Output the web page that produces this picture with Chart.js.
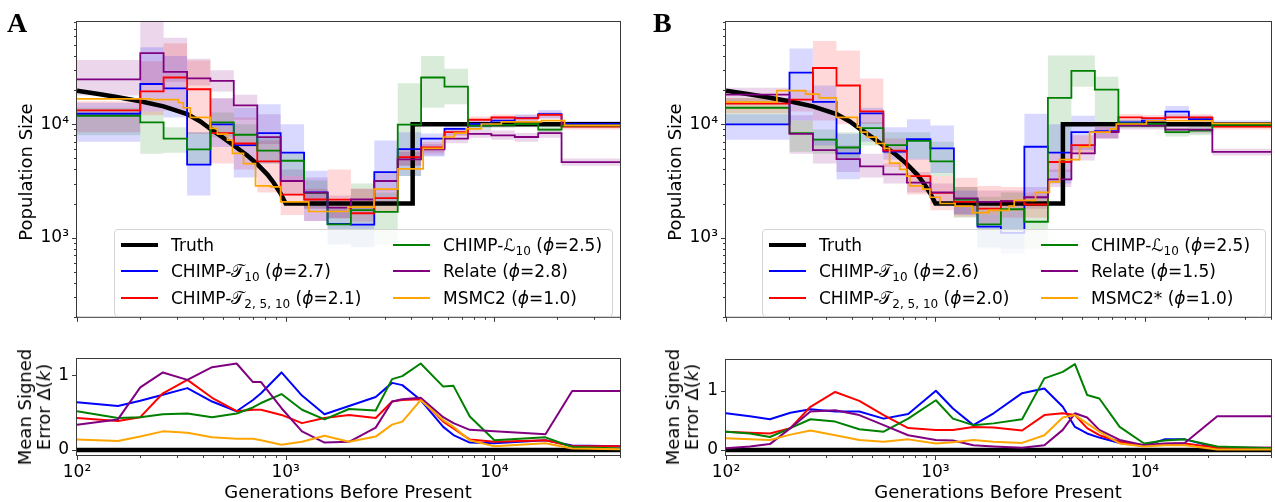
<!DOCTYPE html>
<html>
<head>
<meta charset="utf-8">
<script src="https://cdn.jsdelivr.net/npm/chart.js@4.4.1/dist/chart.umd.min.js"></script>
<style>
  body { margin: 0; background: #fff; }
  #wrap { position: relative; width: 1275px; height: 502px; overflow: hidden; font-family: "DejaVu Sans", sans-serif; color: #000; }
  canvas { position: absolute; }
  .ylab { position: absolute; transform: translate(-50%, -50%) rotate(-90deg); white-space: nowrap; font-size: 18px; line-height: 19px; text-align: center; }
  .xlab { position: absolute; transform: translate(-50%, -50%); white-space: nowrap; font-size: 18px; }
  .panel { position: absolute; font-family: "Liberation Serif", "DejaVu Serif", serif; font-weight: bold; font-size: 28px; line-height: 28px; }
  .legend { position: absolute; border: 1px solid #d4d4d4; border-radius: 4px; background: rgba(255,255,255,0.8); font-size: 17px; }
  .legend .sw { position: absolute; width: 37px; height: 0; border-top: 2px solid; }
  .legend .tx { position: absolute; white-space: nowrap; transform: translateY(-50%); line-height: 20px; }
  .legend sub { font-size: 12px; vertical-align: -4px; line-height: 0; }
  .cal { font-family: "DejaVu Sans", "DejaVu Serif", "Noto Sans", serif; }
</style>
</head>
<body>
<div id="wrap">
  <canvas id="topA" width="637" height="335" style="left:0;top:0"></canvas>
  <canvas id="errA" width="637" height="167" style="left:0;top:335px"></canvas>
  <canvas id="topB" width="635" height="335" style="left:640px;top:0"></canvas>
  <canvas id="errB" width="635" height="167" style="left:640px;top:335px"></canvas>

  <div class="panel" style="left:7px;top:9px">A</div>
  <div class="panel" style="left:653px;top:9px">B</div>

  <div class="ylab" style="left:25px;top:172px">Population Size</div>
  <div class="ylab" style="left:34px;top:407px">Mean Signed<br>Error Δ(<i>k</i>)</div>
  <div class="xlab" style="left:348px;top:491px">Generations Before Present</div>

  <div class="ylab" style="left:674px;top:172px">Population Size</div>
  <div class="ylab" style="left:682px;top:407px">Mean Signed<br>Error Δ(<i>k</i>)</div>
  <div class="xlab" style="left:998px;top:491px">Generations Before Present</div>

  <div class="legend" style="left:114px;top:229px;width:497px;height:86px">
    <div class="sw" style="left:6px;top:13px;border-top-width:4px;border-color:#000"></div>
    <div class="tx" style="left:56px;top:15px">Truth</div>
    <div class="sw" style="left:6px;top:40px;border-color:#0000ff"></div>
    <div class="tx" style="left:56px;top:41px">CHIMP-<span class="cal">𝒯</span><sub>10</sub> (<i>ϕ</i>=2.7)</div>
    <div class="sw" style="left:6px;top:67px;border-color:#ff0000"></div>
    <div class="tx" style="left:56px;top:68px">CHIMP-<span class="cal">𝒯</span><sub>2, 5, 10</sub> (<i>ϕ</i>=2.1)</div>
    <div class="sw" style="left:278px;top:14px;border-color:#008000"></div>
    <div class="tx" style="left:328px;top:15px">CHIMP-<span class="cal">ℒ</span><sub>10</sub> (<i>ϕ</i>=2.5)</div>
    <div class="sw" style="left:278px;top:40px;border-color:#800080"></div>
    <div class="tx" style="left:328px;top:41px">Relate (<i>ϕ</i>=2.8)</div>
    <div class="sw" style="left:278px;top:67px;border-color:#ffa500"></div>
    <div class="tx" style="left:328px;top:68px">MSMC2 (<i>ϕ</i>=1.0)</div>
  </div>

  <div class="legend" style="left:762px;top:229px;width:502px;height:86px">
    <div class="sw" style="left:6px;top:13px;border-top-width:4px;border-color:#000"></div>
    <div class="tx" style="left:56px;top:15px">Truth</div>
    <div class="sw" style="left:6px;top:40px;border-color:#0000ff"></div>
    <div class="tx" style="left:56px;top:41px">CHIMP-<span class="cal">𝒯</span><sub>10</sub> (<i>ϕ</i>=2.6)</div>
    <div class="sw" style="left:6px;top:67px;border-color:#ff0000"></div>
    <div class="tx" style="left:56px;top:68px">CHIMP-<span class="cal">𝒯</span><sub>2, 5, 10</sub> (<i>ϕ</i>=2.0)</div>
    <div class="sw" style="left:278px;top:14px;border-color:#008000"></div>
    <div class="tx" style="left:328px;top:15px">CHIMP-<span class="cal">ℒ</span><sub>10</sub> (<i>ϕ</i>=2.5)</div>
    <div class="sw" style="left:278px;top:40px;border-color:#800080"></div>
    <div class="tx" style="left:328px;top:41px">Relate (<i>ϕ</i>=1.5)</div>
    <div class="sw" style="left:278px;top:67px;border-color:#ffa500"></div>
    <div class="tx" style="left:328px;top:68px">MSMC2* (<i>ϕ</i>=1.0)</div>
  </div>
</div>

<script>
// axis ranges and tick labels
const X_MIN = 100, X_MAX = 40000;
const xTickVals = [100, 1000, 10000];
const xTickText = ['10²', '10³', '10⁴'];
const popTickVals = [1000, 10000];
const popTickText = ['10³', '10⁴'];
const errTickVals = [0, 1];

// start of each time bin (generations)
const binStarts = [100, 201, 260, 337, 436, 564, 731, 946, 1225, 1587, 2054, 2658, 3443, 4457, 5768, 7474, 9674, 12520, 16220, 20990];

// true history
const truthX = [100, 129, 155, 201, 260, 337, 390, 436, 497, 564, 655, 731, 818, 876, 946, 1000, 4060, 4060, 40000];
const truthY = [19800, 18400, 17400, 16000, 14400, 12300, 10600, 9100, 7700, 6500, 5300, 4450, 3600, 3050, 2450, 2000, 2000, 10000, 10000];

// panel A estimates per bin
const blueA    = [12400, 22700, 20800, 4400, 10000, 6550, 8360, 5620, 2510, 1320, 1300, 3790, 6050, 7470, 9110, 10060, 10800, 11330, 12280, 10060];
const blueALo  = [7000, 13000, 11500, 2350, 6300, 3400, 4500, 3100, 1400, 870, 820, 2100, 3500, 5200, 8000, 9300, 9900, 10400, 11200, 9400];
const blueAHi  = [15500, 48000, 40000, 8500, 17000, 14000, 15000, 10000, 3900, 1850, 1900, 7200, 8500, 8300, 10300, 11000, 11700, 12300, 13400, 10700];
const redA     = [13300, 19500, 25900, 20400, 8360, 6770, 4700, 2400, 2170, 2160, 1640, 2230, 5130, 6240, 8530, 10970, 11490, 11300, 12100, 9550];
const redALo   = [8500, 12000, 13200, 8200, 4500, 4000, 2500, 1580, 1400, 1480, 1380, 1700, 4300, 5600, 7900, 10300, 10800, 10600, 11300, 9000];
const redAHi   = [16000, 36000, 52000, 36500, 17000, 11500, 7200, 3500, 2700, 4000, 2700, 2700, 6100, 7000, 9200, 11700, 12200, 12000, 12900, 10100];
const greenA   = [11900, 10400, 7470, 6000, 10400, 8090, 5850, 4770, 2480, 1310, 1750, 1690, 9950, 25900, 21500, 9750, 9870, 10060, 8980, 9750];
const greenALo = [8000, 5500, 5600, 4400, 7700, 6300, 4500, 3500, 1800, 870, 820, 870, 3500, 14000, 15000, 9000, 9300, 9400, 8300, 9300];
const greenAHi = [14000, 13000, 9400, 8500, 12700, 10000, 7700, 5600, 3200, 2100, 3000, 2500, 23000, 40000, 31000, 10500, 10500, 10700, 9700, 10200];
const purpleA   = [24900, 42500, 29000, 25400, 24200, 14700, 7700, 3160, 2500, 1840, 2170, 3160, 4900, 6000, 7470, 8250, 8000, 7730, 8360, 4640];
const purpleALo = [18000, 23000, 23800, 22000, 19500, 11000, 6700, 2350, 1800, 1480, 1700, 2600, 4300, 5300, 6800, 7600, 7300, 7000, 7600, 4300];
const purpleAHi = [37000, 80000, 58000, 38000, 30000, 18200, 12300, 4000, 3400, 2350, 2700, 3800, 5700, 6700, 8200, 9000, 8800, 8400, 9200, 5000];
const orangeAX = [100, 224, 306, 323, 349, 436, 471, 526, 556, 628, 717, 847, 946, 1290, 1985, 2650, 3450, 4560, 5690, 6430, 7330, 8660, 10800, 16800, 21700];
const orangeAY = [16800, 16500, 15500, 14000, 11500, 9200, 8200, 7240, 5550, 4500, 2860, 2800, 2070, 1700, 1860, 2680, 4050, 6130, 7730, 8360, 9110, 10060, 10500, 10800, 9800];

// panel B estimates per bin
const blueB    = [10000, 28600, 15800, 5550, 12500, 5740, 7380, 6130, 2200, 1250, 1100, 6340, 5620, 8530, 8700, 10400, 10750, 12950, 11100, 10200];
const blueBLo  = [7300, 10800, 6500, 3270, 7000, 4870, 4870, 3720, 1600, 820, 720, 2200, 3000, 5930, 7500, 9700, 10100, 11500, 10300, 9600];
const blueBHi  = [12300, 46700, 22000, 8250, 14000, 9420, 11100, 9750, 2600, 1600, 1700, 12400, 10000, 11900, 9500, 11000, 11500, 14500, 11900, 10800];
const redB     = [15200, 16500, 31400, 22000, 13000, 5850, 3490, 2480, 2070, 1800, 2090, 1960, 4650, 6550, 8530, 11500, 11330, 11500, 11500, 9550];
const redBLo   = [12500, 13000, 10800, 10000, 10060, 4200, 2400, 1740, 1530, 1290, 1500, 1500, 3800, 5500, 7500, 10700, 10600, 10700, 10700, 9000];
const redBHi   = [17100, 20000, 54400, 44800, 25400, 7500, 5000, 3490, 3380, 2860, 2800, 2500, 5500, 8000, 9500, 12300, 12100, 12300, 12300, 10100];
const greenB   = [14000, 8360, 7330, 6240, 9240, 6550, 7140, 4700, 2170, 1310, 1780, 1380, 17100, 29600, 20200, 10200, 10060, 8530, 8820, 9870];
const greenBLo = [10000, 5740, 5500, 5000, 6500, 5500, 5000, 3500, 1500, 800, 800, 800, 5550, 21500, 10060, 9300, 9300, 7800, 8000, 9300];
const greenBHi = [17000, 10800, 9000, 8500, 10500, 8500, 8500, 7000, 2800, 2300, 2500, 2300, 40500, 40500, 26300, 11000, 10800, 9300, 9600, 10400];
const purpleB   = [18300, 8250, 5930, 4930, 4260, 3610, 3060, 2510, 2220, 2070, 2100, 2270, 3270, 5550, 8530, 9800, 9750, 8980, 8980, 5700];
const purpleBLo = [15000, 5500, 4500, 3800, 3400, 3000, 2500, 2000, 1600, 1600, 1700, 1800, 2800, 4800, 7500, 9000, 9000, 8300, 8300, 5300];
const purpleBHi = [21000, 12000, 7500, 6500, 5500, 4500, 3800, 3000, 2800, 2600, 2600, 2800, 4000, 6500, 9500, 10600, 10500, 9700, 9700, 6100];
const orangeBX = [100, 175, 240, 279, 335, 424, 442, 473, 521, 571, 604, 675, 727, 754, 871, 941, 1052, 1242, 1497, 1801, 2249, 2377, 3006, 3499, 3910, 4875, 5445, 6800, 7300, 10160, 21000];
const orangeBY = [15700, 19800, 18500, 17100, 11500, 9420, 8530, 7700, 6770, 6130, 4550, 4000, 3490, 2860, 2680, 2270, 2000, 1900, 1660, 1740, 1900, 2130, 2510, 3100, 4870, 6340, 8530, 9110, 10060, 10750, 10200];

// mean signed error, panel A
const errXA = [100, 157, 201, 258, 338, 444, 582, 697, 762, 955, 1197, 1535, 2012, 2700, 3235, 3622, 4436, 5688, 6368, 7625, 10000, 17580, 23600, 40000];
const errBlueA   = [0.64, 0.59, 0.66, 0.74, 0.83, 0.65, 0.52, 0.67, 0.76, 1.04, 0.73, 0.48, 0.59, 0.71, 0.90, 0.87, 0.67, 0.31, 0.20, 0.10, 0.09, 0.13, 0.06, 0.05];
const errRedA    = [0.43, 0.39, 0.44, 0.76, 0.94, 0.70, 0.52, 0.54, 0.54, 0.47, 0.36, 0.43, 0.47, 0.43, 0.65, 0.67, 0.68, 0.38, 0.29, 0.14, 0.11, 0.13, 0.05, 0.05];
const errGreenA  = [0.52, 0.43, 0.44, 0.48, 0.49, 0.44, 0.49, 0.57, 0.63, 0.75, 0.54, 0.41, 0.55, 0.53, 0.95, 0.99, 1.16, 0.85, 0.86, 0.45, 0.13, 0.17, 0.04, 0.02];
const errPurpleA = [0.34, 0.41, 0.84, 1.04, 0.94, 1.11, 1.16, 0.91, 0.91, 0.56, 0.25, 0.10, 0.11, 0.30, 0.65, 0.68, 0.70, 0.44, 0.36, 0.27, 0.25, 0.21, 0.79, 0.79];
const errOrangeA = [0.14, 0.12, 0.18, 0.25, 0.23, 0.17, 0.15, 0.15, 0.13, 0.07, 0.11, 0.19, 0.11, 0.18, 0.34, 0.38, 0.67, 0.40, 0.31, 0.13, 0.05, 0.09, 0.02, 0.01];

// mean signed error, panel B
const errXB = [100, 130, 162, 203, 253, 332, 433, 566, 741, 1005, 1212, 1516, 1895, 2592, 3312, 4054, 4634, 5297, 6060, 7578, 9910, 12390, 15490, 22160, 40000];
const errBlueB   = [0.62, 0.57, 0.52, 0.63, 0.69, 0.65, 0.65, 0.53, 0.61, 1.00, 0.70, 0.42, 0.62, 0.96, 1.04, 0.73, 0.39, 0.28, 0.21, 0.12, 0.07, 0.18, 0.18, 0.04, 0.04];
const errRedB    = [0.31, 0.29, 0.28, 0.37, 0.73, 0.98, 0.83, 0.59, 0.37, 0.34, 0.34, 0.39, 0.38, 0.33, 0.59, 0.62, 0.59, 0.37, 0.25, 0.14, 0.08, 0.10, 0.11, 0.04, 0.04];
const errGreenB  = [0.31, 0.28, 0.22, 0.37, 0.52, 0.48, 0.35, 0.31, 0.53, 0.84, 0.53, 0.42, 0.45, 0.52, 1.21, 1.32, 1.45, 0.93, 0.87, 0.39, 0.11, 0.16, 0.18, 0.06, 0.03];
const errPurpleB = [0.03, 0.06, 0.10, 0.37, 0.65, 0.67, 0.59, 0.42, 0.25, 0.17, 0.16, 0.08, 0.06, 0.04, 0.08, 0.34, 0.62, 0.55, 0.34, 0.17, 0.08, 0.11, 0.12, 0.57, 0.57];
const errOrangeB = [0.20, 0.18, 0.17, 0.26, 0.33, 0.25, 0.17, 0.14, 0.18, 0.11, 0.13, 0.17, 0.14, 0.12, 0.25, 0.55, 0.59, 0.45, 0.31, 0.11, 0.06, 0.08, 0.08, 0.01, 0.01];

const BLUE = '#0000ff', RED = '#ff0000', GREEN = '#008000', PURPLE = '#800080', ORANGE = '#ffa500';
const BAND = {
    [BLUE]: 'rgba(0,0,255,0.15)',
    [RED]: 'rgba(255,0,0,0.15)',
    [GREEN]: 'rgba(0,128,0,0.15)',
    [PURPLE]: 'rgba(128,0,128,0.16)'
};
const FONT = { family: 'DejaVu Sans', size: 17 };

// step series: one point per bin start plus a closing point at the right edge
function steps(xs, ys) {
    const pts = xs.map((x, i) => ({ x, y: ys[i] }));
    pts.push({ x: X_MAX, y: ys[ys.length - 1] });
    return pts;
}
function points(xs, ys) {
    return xs.map((x, i) => ({ x, y: ys[i] }));
}

// frame plus major/minor tick marks, matplotlib style
const frameTicks = {
    id: 'frameTicks',
    afterDraw(chart) {
        const { ctx, chartArea: a, scales } = chart;
        ctx.save();
        ctx.strokeStyle = '#3a3a3a';
        ctx.lineWidth = 1;
        ctx.strokeRect(a.left - 0.5, a.top - 0.5, a.right - a.left + 1, a.bottom - a.top + 1);

        const logMarks = (s) => {
            const out = [];
            for (let d = Math.floor(Math.log10(s.min)); d <= Math.ceil(Math.log10(s.max)); d++) {
                for (let m = 1; m <= 9; m++) {
                    const v = m * Math.pow(10, d);
                    if (v >= s.min * 0.999 && v <= s.max * 1.001) out.push([v, m === 1 ? 5 : 3]);
                }
            }
            return out;
        };
        const seg = (x1, y1, x2, y2) => {
            ctx.beginPath(); ctx.moveTo(x1, y1); ctx.lineTo(x2, y2); ctx.stroke();
        };

        logMarks(scales.x).forEach(([v, len]) => {
            const p = Math.round(scales.x.getPixelForValue(v)) + 0.5;
            seg(p, a.bottom, p, a.bottom + len);
        });
        const yMarks = scales.y.type === 'logarithmic' ? logMarks(scales.y) : errTickVals.map(v => [v, 5]);
        yMarks.forEach(([v, len]) => {
            const p = Math.round(scales.y.getPixelForValue(v)) + 0.5;
            seg(a.left - len, p, a.left, p);
        });
        ctx.restore();
    }
};

// Chart.js 'before' = hold the previous value, then jump at the next bin start
const STEP = 'before';

function popChart(id, series, orangeX, orangeY, leftW, rightPad) {
    const datasets = [];
    series.forEach(s => {
        datasets.push({ data: steps(binStarts, s.lo), borderWidth: 0, fill: false, stepped: STEP, order: 10 });
        datasets.push({ data: steps(binStarts, s.hi), borderWidth: 0, fill: '-1', backgroundColor: BAND[s.color], stepped: STEP, order: 10 });
    });
    datasets.push({ data: points(truthX, truthY), borderColor: '#000', borderWidth: 4.5, order: 7 });
    series.forEach((s, i) => {
        datasets.push({ data: steps(binStarts, s.val), borderColor: s.color, borderWidth: 1.8, stepped: STEP, order: 6 - i });
    });
    datasets.push({ data: steps(orangeX, orangeY), borderColor: ORANGE, borderWidth: 1.7, stepped: STEP, order: 0 });

    new Chart(document.getElementById(id), {
        type: 'line',
        data: { datasets },
        options: {
            responsive: false,
            animation: false,
            devicePixelRatio: 1,
            layout: { padding: { top: 22, right: rightPad, left: 0, bottom: 0 } },
            elements: { point: { radius: 0 }, line: { tension: 0 } },
            plugins: { legend: { display: false }, tooltip: { enabled: false } },
            scales: {
                x: {
                    type: 'logarithmic', min: X_MIN, max: X_MAX,
                    grid: { display: false, drawTicks: false }, border: { display: false },
                    ticks: { display: false },
                    afterFit: s => { s.height = 12; }
                },
                y: {
                    type: 'logarithmic', min: 200, max: 80000,
                    grid: { display: false, drawTicks: false }, border: { display: false },
                    afterBuildTicks: s => { s.ticks = popTickVals.map(v => ({ value: v })); },
                    ticks: {
                        callback: v => popTickText[popTickVals.indexOf(v)] || '',
                        font: FONT, color: '#000', padding: 8, autoSkip: false
                    },
                    afterFit: s => { s.width = leftW; }
                }
            }
        },
        plugins: [frameTicks]
    });
}

function errChart(id, xs, lines, yMin, yMax, topPad, leftW, rightPad) {
    const datasets = [{ data: [{ x: X_MIN, y: 0 }, { x: X_MAX, y: 0 }], borderColor: '#000', borderWidth: 4.5, order: 9 }];
    lines.forEach(([ys, color], i) => {
        datasets.push({ data: points(xs, ys), borderColor: color, borderWidth: 2, order: 6 - i });
    });

    new Chart(document.getElementById(id), {
        type: 'line',
        data: { datasets },
        options: {
            responsive: false,
            animation: false,
            devicePixelRatio: 1,
            layout: { padding: { top: topPad, right: rightPad, left: 0, bottom: 0 } },
            elements: { point: { radius: 0 }, line: { tension: 0, borderJoinStyle: 'round' } },
            plugins: { legend: { display: false }, tooltip: { enabled: false } },
            scales: {
                x: {
                    type: 'logarithmic', min: X_MIN, max: X_MAX,
                    grid: { display: false, drawTicks: false }, border: { display: false },
                    afterBuildTicks: s => { s.ticks = xTickVals.map(v => ({ value: v })); },
                    ticks: {
                        callback: v => xTickText[xTickVals.indexOf(v)] || '',
                        font: FONT, color: '#000', padding: 7, maxRotation: 0, autoSkip: false
                    },
                    afterFit: s => { s.height = 47; }
                },
                y: {
                    type: 'linear', min: yMin, max: yMax,
                    grid: { display: false, drawTicks: false }, border: { display: false },
                    afterBuildTicks: s => { s.ticks = errTickVals.map(v => ({ value: v })); },
                    ticks: { callback: v => String(v), font: FONT, color: '#000', padding: 8, autoSkip: false },
                    afterFit: s => { s.width = leftW; }
                }
            }
        },
        plugins: [frameTicks]
    });
}

popChart('topA', [
    { val: blueA, lo: blueALo, hi: blueAHi, color: BLUE },
    { val: redA, lo: redALo, hi: redAHi, color: RED },
    { val: greenA, lo: greenALo, hi: greenAHi, color: GREEN },
    { val: purpleA, lo: purpleALo, hi: purpleAHi, color: PURPLE }
], orangeAX, orangeAY, 77, 17);

popChart('topB', [
    { val: blueB, lo: blueBLo, hi: blueBHi, color: BLUE },
    { val: redB, lo: redBLo, hi: redBHi, color: RED },
    { val: greenB, lo: greenBLo, hi: greenBHi, color: GREEN },
    { val: purpleB, lo: purpleBLo, hi: purpleBHi, color: PURPLE }
], orangeBX, orangeBY, 86, 4);

errChart('errA', errXA, [
    [errBlueA, BLUE], [errRedA, RED], [errGreenA, GREEN], [errPurpleA, PURPLE], [errOrangeA, ORANGE]
], -0.067, 1.22, 24, 77, 17);

errChart('errB', errXB, [
    [errBlueB, BLUE], [errRedB, RED], [errGreenB, GREEN], [errPurpleB, PURPLE], [errOrangeB, ORANGE]
], -0.084, 1.52, 25, 86, 4);
</script>
</body>
</html>
